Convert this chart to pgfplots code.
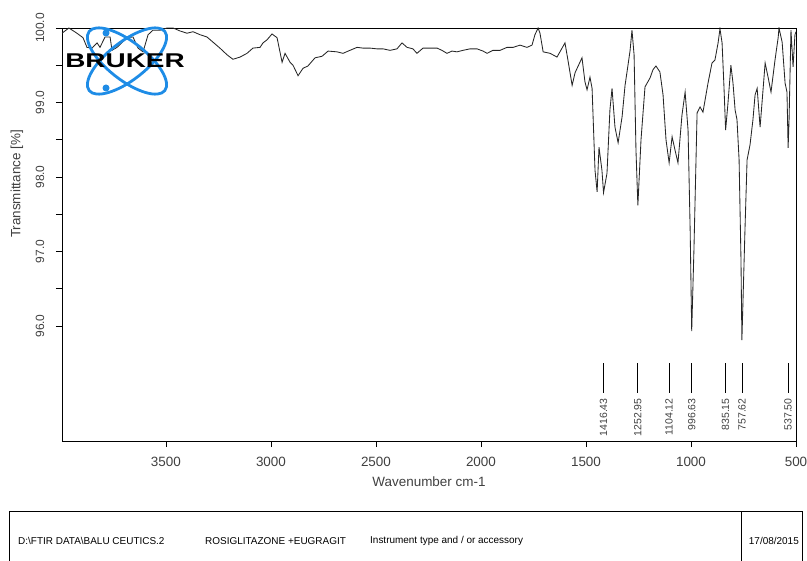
\documentclass[border=0pt]{standalone}
\usepackage{fontspec}
\setmainfont{Liberation Sans}
\usepackage{graphicx}
\usepackage{pgfplots}
\pgfplotsset{compat=1.18}
\definecolor{brukerblue}{RGB}{30,140,230}
\definecolor{txt}{gray}{0.25}
\begin{document}
\begin{tikzpicture}
\begin{axis}[
  at={(62bp,-441bp)}, anchor=south west,
  scale only axis, width=734bp, height=413bp,
  x dir=reverse, xmin=500, xmax=3995, ymin=94.456, ymax=100,
  axis line style={black, line width=0.8bp},
  xtick={500,1000,1500,2000,2500,3000,3500},
  xticklabels={500,1000,1500,2000,2500,3000,3500},
  ytick={96,97,98,99,100},
  yticklabels={96.0,97.0,98.0,99.0,100.0},
  minor ytick={96.5,97.5,98.5,99.5},
  xtick pos=bottom, ytick pos=left,
  tick align=outside,
  major tick length=6bp, minor tick length=6bp,
  every tick/.style={black, line width=0.7bp},
  xticklabel style={font=\fontsize{13.5}{14}\selectfont, text=txt, anchor=center, yshift=-15bp},
  yticklabel style={font=\fontsize{12}{13}\selectfont, text=txt, xshift=-16bp, rotate=90, anchor=center},
  clip=true,
]
\addplot[black!85, line width=0.85bp] coordinates {
(3995,99.93) (3962,100.00) (3924,99.93) (3895,99.87) (3876,99.74) (3852,99.73) (3828,99.80) (3814,99.74)
(3790,99.88) (3766,99.88) (3757,99.70) (3733,99.74) (3685,99.87) (3657,99.88) (3633,99.73) (3609,99.68)
(3585,99.91) (3562,99.97) (3528,99.97) (3495,100.00) (3466,100.00) (3433,99.96) (3400,99.93) (3371,99.95)
(3338,99.91) (3305,99.88) (3276,99.81) (3243,99.73) (3209,99.64) (3181,99.58) (3147,99.61) (3114,99.66)
(3086,99.73) (3052,99.74) (3038,99.80) (3019,99.84) (2995,99.92) (2971,99.87) (2947,99.54) (2933,99.66)
(2909,99.54) (2895,99.50) (2871,99.36) (2847,99.46) (2824,99.49) (2790,99.60) (2757,99.62) (2728,99.69)
(2686,99.68) (2657,99.66) (2624,99.70) (2590,99.74) (2562,99.73) (2528,99.73) (2495,99.72) (2466,99.72)
(2433,99.70) (2400,99.72) (2376,99.80) (2352,99.74) (2324,99.72) (2305,99.66) (2276,99.73) (2243,99.73)
(2209,99.73) (2186,99.70) (2162,99.66) (2138,99.69) (2114,99.68) (2086,99.70) (2052,99.72) (2019,99.72)
(1990,99.69) (1971,99.66) (1943,99.70) (1909,99.70) (1876,99.74) (1847,99.74) (1814,99.77) (1781,99.74)
(1757,99.77) (1743,99.91) (1728,100.00) (1719,99.93) (1704,99.68) (1671,99.66) (1638,99.61) (1624,99.68)
(1600,99.80) (1586,99.57) (1566,99.23) (1552,99.40) (1519,99.60) (1505,99.28) (1495,99.17) (1481,99.34)
(1471,99.19) (1457,98.09) (1447,97.80) (1438,98.40) (1424,98.09) (1416.43,97.79) (1400,98.05) (1386,98.90)
(1376,99.19) (1362,98.67) (1347,98.46) (1328,98.81) (1314,99.23) (1300,99.50) (1290,99.70) (1281,99.97)
(1271,99.64) (1262,98.36) (1252.95,97.62) (1238,98.50) (1219,99.21) (1195,99.33) (1181,99.44) (1167,99.49)
(1148,99.41) (1133,99.10) (1119,98.50) (1104.12,98.19) (1090,98.54) (1076,98.36) (1062,98.19) (1043,98.83)
(1028,99.14) (1014,98.63) (1004,97.29) (996.63,95.93) (986,97.02) (971,98.86) (957,98.94) (943,98.87)
(919,99.26) (900,99.53) (886,99.57) (871,99.80) (862,99.99) (852,99.80) (843,99.21) (835.15,98.63)
(824,98.99) (810,99.50) (800,99.26) (790,98.90) (781,98.77) (771,98.23) (762,96.89) (757.62,95.81)
(743,97.29) (733,98.23) (719,98.43) (705,98.77) (695,99.10) (685,99.19) (671,98.67) (657,99.17)
(647,99.53) (633,99.34) (619,99.14) (600,99.57) (585,99.87) (581,100.00) (566,99.81) (552,99.26)
(543,99.14) (537.50,98.39) (533,98.77) (524,99.97) (514,99.48) (505,99.91) (500,99.95)
};
\addplot[black, line width=0.8bp] coordinates {(1416.43,95.50) (1416.43,95.10)};
\addplot[black, line width=0.8bp] coordinates {(1252.95,95.50) (1252.95,95.10)};
\addplot[black, line width=0.8bp] coordinates {(1104.12,95.50) (1104.12,95.10)};
\addplot[black, line width=0.8bp] coordinates {(996.63,95.50) (996.63,95.10)};
\addplot[black, line width=0.8bp] coordinates {(835.15,95.50) (835.15,95.10)};
\addplot[black, line width=0.8bp] coordinates {(757.62,95.50) (757.62,95.10)};
\addplot[black, line width=0.8bp] coordinates {(537.50,95.50) (537.50,95.10)};
\node[rotate=90, anchor=east, inner sep=0pt, font=\fontsize{10.5}{11}\selectfont, text=txt] at (axis cs:1416.43,95.03) {1416.43};
\node[rotate=90, anchor=east, inner sep=0pt, font=\fontsize{10.5}{11}\selectfont, text=txt] at (axis cs:1252.95,95.03) {1252.95};
\node[rotate=90, anchor=east, inner sep=0pt, font=\fontsize{10.5}{11}\selectfont, text=txt] at (axis cs:1104.12,95.03) {1104.12};
\node[rotate=90, anchor=east, inner sep=0pt, font=\fontsize{10.5}{11}\selectfont, text=txt] at (axis cs:996.63,95.03) {996.63};
\node[rotate=90, anchor=east, inner sep=0pt, font=\fontsize{10.5}{11}\selectfont, text=txt] at (axis cs:835.15,95.03) {835.15};
\node[rotate=90, anchor=east, inner sep=0pt, font=\fontsize{10.5}{11}\selectfont, text=txt] at (axis cs:757.62,95.03) {757.62};
\node[rotate=90, anchor=east, inner sep=0pt, font=\fontsize{10.5}{11}\selectfont, text=txt] at (axis cs:537.50,95.03) {537.50};
\end{axis}
\begin{scope}[x=1bp,y=-1bp]
% logo
\draw[brukerblue, line width=2.8bp, rotate around={38:(127,61)}] (127,61) ellipse [x radius=48, y radius=19];
\draw[brukerblue, line width=2.8bp, rotate around={-38:(127,61)}] (127,61) ellipse [x radius=48, y radius=19];
\fill[brukerblue] (106,33) circle (3.5);
\fill[brukerblue] (106,88) circle (3.5);
\node[font=\fontsize{20}{20}\selectfont\bfseries, xscale=1.4, inner sep=0pt] at (125,61) {BRUKER};
% axis labels
\node[font=\fontsize{13.5}{14}\selectfont, text=txt] at (429,482) {Wavenumber cm-1};
\node[font=\fontsize{13.5}{14}\selectfont, text=txt, rotate=90] at (17,184) {Transmittance [\%]};
% info box
\draw[black, line width=0.8bp] (9,575) -- (9,511) -- (802,511) -- (802,575);
\draw[black, line width=0.8bp] (741,511) -- (741,575);
\node[anchor=west, inner sep=0pt, font=\fontsize{10}{11}\selectfont] at (18,541) {D:\textbackslash FTIR DATA\textbackslash BALU CEUTICS.2};
\node[anchor=west, inner sep=0pt, font=\fontsize{10}{11}\selectfont] at (205,541) {ROSIGLITAZONE +EUGRAGIT};
\node[anchor=west, inner sep=0pt, font=\fontsize{10}{11}\selectfont] at (370,541) {Instrument type and / or accessory};
\node[anchor=east, inner sep=0pt, font=\fontsize{10}{11}\selectfont] at (799,541) {17/08/2015};
\pgfresetboundingbox
\path[use as bounding box] (0,0) rectangle (807,561);
\end{scope}
\end{tikzpicture}
\end{document}
